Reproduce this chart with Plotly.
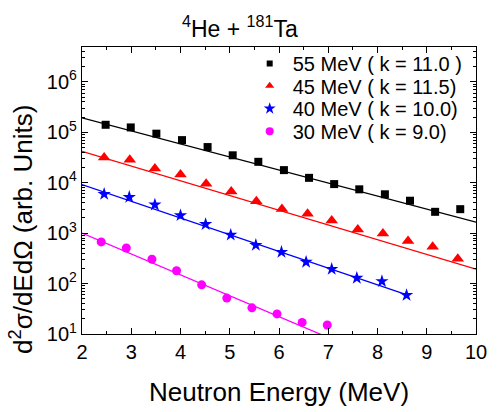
import plotly.graph_objects as go

# ---- data ----
x55 = [2.48, 2.99, 3.51, 4.03, 4.55, 5.06, 5.58, 6.10, 6.61, 7.12, 7.63, 8.15, 8.66, 9.17, 9.68]
y55 = [1.41e5, 1.25e5, 9.4e4, 7.0e4, 5.1e4, 3.5e4, 2.6e4, 1.78e4, 1.25e4, 9.4e3, 7.4e3, 5.9e3, 4.4e3, 2.65e3, 2.99e3]

x45 = [2.45, 2.97, 3.48, 4.00, 4.52, 5.03, 5.54, 6.06, 6.58, 7.07, 7.60, 8.11, 8.62, 9.12, 9.63]
y45 = [3.16e4, 2.86e4, 1.92e4, 1.45e4, 9.6e3, 6.7e3, 4.3e3, 3.0e3, 2.43e3, 1.78e3, 1.18e3, 986, 702, 538, 312]

x40 = [2.45, 2.96, 3.48, 4.00, 4.51, 5.02, 5.53, 6.05, 6.55, 7.07, 7.58, 8.09, 8.59]
y40 = [5.96e3, 5.2e3, 3.66e3, 2.25e3, 1.5e3, 923, 580, 422, 268, 194, 129, 111, 58.8]

x30 = [2.39, 2.90, 3.42, 3.92, 4.43, 4.94, 5.45, 5.96, 6.47, 6.98]
y30 = [671, 508, 303, 180, 94.4, 51.5, 33, 25, 17, 15.1]

# fitted lines (end points)
fit55_x = [2, 10];  fit55_y = [1.94e5, 1.65e3]
fit45_x = [2, 10];  fit45_y = [4.18e4, 194]
fit40_x = [2, 8.6]; fit40_y = [9.2e3, 59.6]
fit30_x = [2, 7];   fit30_y = [1000, 8.5]

labels = ["55 MeV ( k = 11.0 )", "45 MeV ( k = 11.5)", "40 MeV ( k = 10.0)", "30 MeV ( k = 9.0)"]
y_tickvals = [1e1, 1e2, 1e3, 1e4, 1e5, 1e6]
y_ticktext = ["10<sup>1</sup>", "10<sup>2</sup>", "10<sup>3</sup>", "10<sup>4</sup>",
              "10<sup>5</sup>", "10<sup>6</sup>"]

colors = ["#000000", "#ff0000", "#0000ff", "#ff00ff"]
symbols = ["square", "triangle-up", "star", "circle"]
msizes = [8, 11, 10, 9]
lsizes = [6, 8, 9, 8]

FONT = "Liberation Sans, Arial, sans-serif"

fig = go.Figure()
series = [(x55, y55, fit55_x, fit55_y), (x45, y45, fit45_x, fit45_y),
          (x40, y40, fit40_x, fit40_y), (x30, y30, fit30_x, fit30_y)]
for i, (xs, ys, fx, fy) in enumerate(series):
    fig.add_trace(go.Scatter(x=fx, y=fy, mode="lines", line=dict(color=colors[i], width=1.3),
                             showlegend=False, hoverinfo="skip"))
    fig.add_trace(go.Scatter(x=xs, y=ys, mode="markers", showlegend=False,
                             marker=dict(symbol=symbols[i], color=colors[i], size=msizes[i],
                                         line=dict(width=0))))

legend_names = ["legend", "legend2", "legend3", "legend4"]
row_centers_px = [64, 87, 110.5, 134]
PLOT_TOP, PLOT_BOTTOM = 47, 343
for i in range(4):
    fig.add_trace(go.Scatter(x=[None], y=[None], mode="markers", name=labels[i],
                             legend=legend_names[i],
                             marker=dict(symbol=symbols[i], color=colors[i], size=lsizes[i],
                                         line=dict(width=0))))

axis_common = dict(showline=True, linecolor="black", linewidth=1.2, mirror="allticks",
                   ticks="inside", ticklen=6, tickwidth=1, tickcolor="black",
                   showgrid=False, zeroline=False,
                   tickfont=dict(family=FONT, size=20, color="black"))

fig.update_xaxes(range=[2, 10], dtick=1, tick0=2,
                 minor=dict(ticks="inside", ticklen=3, dtick=0.5, tickcolor="black", showgrid=False),
                 title=dict(text="Neutron Energy (MeV)", font=dict(family=FONT, size=26, color="black"),
                            standoff=20),
                 **axis_common)
fig.update_yaxes(type="log", range=[1, 6.692], tickvals=y_tickvals, ticktext=y_ticktext,
                 minor=dict(ticks="inside", ticklen=3, dtick="D1", tickcolor="black", showgrid=False),
                 **axis_common)

fig.add_annotation(text="d<sup>2</sup>σ/dEdΩ (arb. Units)", textangle=-90,
                   xref="paper", yref="paper", x=-0.153, y=0.365, xanchor="center", yanchor="middle",
                   showarrow=False, font=dict(family=FONT, size=26, color="black"))
fig.add_annotation(text="<sup>4</sup>He + <sup>181</sup>Ta",
                   xref="paper", yref="paper", x=0.402, y=1.07, xanchor="center", yanchor="middle",
                   showarrow=False, font=dict(family=FONT, size=23, color="black"))

legend_layout = {}
for i, name in enumerate(legend_names):
    legend_layout[name] = dict(x=0.418, y=(PLOT_BOTTOM - row_centers_px[i]) / (PLOT_BOTTOM - PLOT_TOP),
                               xanchor="left", yanchor="middle", bgcolor="rgba(0,0,0,0)",
                               font=dict(family=FONT, size=20, color="black"), itemwidth=36)

fig.update_layout(
    width=498, height=412,
    margin=dict(l=82, r=11, t=47, b=69),
    paper_bgcolor="white", plot_bgcolor="white",
    font=dict(family=FONT, color="black"),
    showlegend=True,
    **legend_layout,
)

fig.write_html("out.html", config={"displayModeBar": False},
               post_script="document.body.style.margin='0';document.body.style.padding='0';")
